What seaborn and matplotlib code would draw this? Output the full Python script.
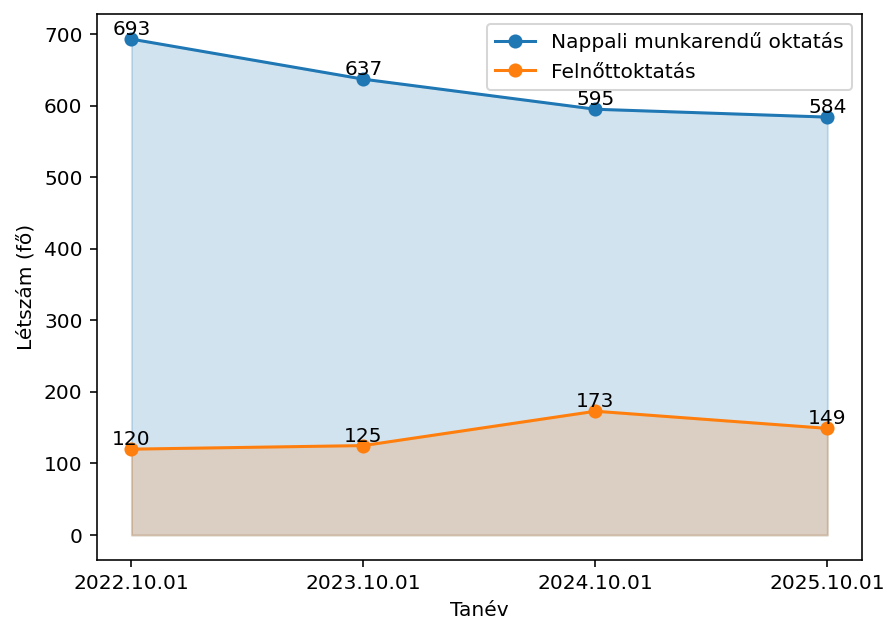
import numpy as np
import pandas as pd
import seaborn as sns
import matplotlib
matplotlib.use("Agg")
import matplotlib.pyplot as plt

# data
dates = ["2022.10.01", "2023.10.01", "2024.10.01", "2025.10.01"]
nappali = [693, 637, 595, 584]
felnott = [120, 125, 173, 149]
series_names = ["Nappali munkarendű oktatás", "Felnőttoktatás"]
colors = ["#1f77b4", "#ff7f0e"]

pos = np.arange(len(dates))
df = pd.DataFrame({
    "pos": np.concatenate([pos, pos]),
    "letszam": nappali + felnott,
    "tipus": [series_names[0]] * len(dates) + [series_names[1]] * len(dates),
})

dpi = 145
fig, ax = plt.subplots(figsize=(887 / dpi, 622 / dpi), dpi=dpi)
fig.subplots_adjust(left=0.109, right=0.972, top=0.977, bottom=0.1)

sns.lineplot(data=df, x="pos", y="letszam", hue="tipus", hue_order=series_names,
             palette=colors, marker="o", markeredgewidth=0, markersize=7,
             linewidth=1.5, legend=False, ax=ax)

for vals, c in zip([nappali, felnott], colors):
    ax.fill_between(pos, 0, vals, color=c, alpha=0.2)
    for x, v in zip(pos, vals):
        ax.text(x, v, str(v), ha="center", va="bottom", fontsize=10)

ax.legend(ax.lines[:2], series_names, loc="upper right")
ax.set_xticks(pos)
ax.set_xticklabels(dates)
ax.set_xlabel("Tanév")
ax.set_ylabel("Létszám (fő)")

fig.savefig("out.png", dpi=dpi)
